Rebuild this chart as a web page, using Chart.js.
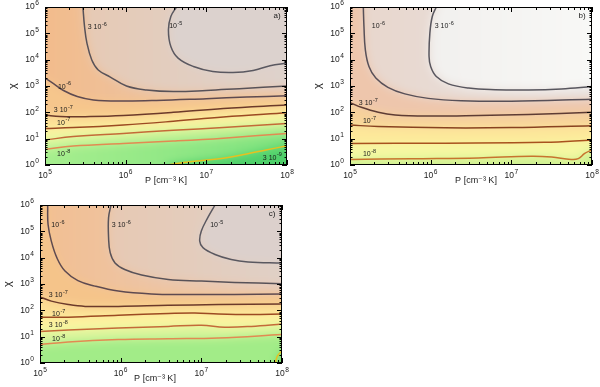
<!DOCTYPE html>
<html><head><meta charset="utf-8">
<script src="https://cdn.jsdelivr.net/npm/chart.js@4.4.1/dist/chart.umd.min.js"></script>
<style>
html,body{margin:0;padding:0;background:#fff;}
body{width:600px;height:387px;position:relative;overflow:hidden;}
.p{position:absolute;}
</style></head><body>
<div class="p" style="left:0;top:0;width:300px;height:190px"><canvas id="ca" width="300" height="190"></canvas></div>
<div class="p" style="left:300px;top:0;width:300px;height:190px"><canvas id="cb" width="300" height="190"></canvas></div>
<div class="p" style="left:0;top:195px;width:300px;height:192px"><canvas id="cc" width="300" height="192"></canvas></div>
<script>
// ---------- axis ticks ----------
const xTicks = [1e5, 1e6, 1e7, 1e8];
const yTicks = [1, 1e1, 1e2, 1e3, 1e4, 1e5, 1e6];

// ---------- contour lines (log10 P, log10 chi), panel a ----------
const a_3e9_lp = [6.51, 6.80, 7.21, 7.50, 7.74, 8.00];
const a_3e9_lc = [0.00, 0.12, 0.26, 0.42, 0.57, 0.73];
const a_1e8_lp = [5.00, 5.35, 5.97, 6.59, 7.21, 8.00];
const a_1e8_lc = [0.59, 0.72, 0.82, 0.91, 1.02, 1.20];
const a_3e8_lp = [5.00, 5.35, 5.97, 6.59, 7.21, 8.00];
const a_3e8_lc = [0.95, 1.08, 1.20, 1.32, 1.42, 1.58];
const a_1e7_lp = [5.00, 5.35, 5.97, 6.59, 7.21, 8.00];
const a_1e7_lc = [1.39, 1.42, 1.52, 1.66, 1.82, 1.98];
const a_3e7_lp = [5.00, 5.19, 5.56, 5.97, 6.59, 7.21, 8.00];
const a_3e7_lc = [1.90, 1.84, 1.84, 1.88, 2.00, 2.15, 2.28];
const a_1e6_lp = [5.00, 5.11, 5.23, 5.40, 5.60, 5.97, 6.38, 7.00, 7.50, 8.00];
const a_1e6_lc = [3.30, 3.08, 2.83, 2.60, 2.47, 2.43, 2.45, 2.52, 2.58, 2.63];
const a_3e6_lp = [5.47, 5.49, 5.52, 5.58, 5.66, 5.81, 6.01, 6.26, 6.59, 7.00, 7.41, 8.00];
const a_3e6_lc = [6.00, 5.26, 4.63, 3.99, 3.61, 3.34, 3.00, 2.85, 2.79, 2.83, 2.90, 3.00];
const a_1e5_lp = [6.63, 6.56, 6.53, 6.56, 6.65, 6.84, 7.08, 7.33, 7.58, 7.79, 8.00];
const a_1e5_lc = [6.00, 5.64, 5.14, 4.50, 4.06, 3.74, 3.55, 3.51, 3.59, 3.77, 3.87];

// ---------- panel b ----------
const b_1e8_lp = [5.00, 5.76, 6.59, 7.25, 7.50, 7.74, 7.83, 7.91, 8.00];
const b_1e8_lc = [0.21, 0.24, 0.27, 0.33, 0.30, 0.21, 0.24, 0.44, 0.57];
const b_3e8_lp = [5.00, 6.18, 7.41, 8.00];
const b_3e8_lc = [0.82, 0.83, 0.86, 0.95];
const b_1e7_lp = [5.00, 5.35, 6.18, 7.00, 8.00];
const b_1e7_lc = [1.52, 1.46, 1.41, 1.42, 1.49];
const b_3e7_lp = [5.00, 5.14, 5.35, 5.56, 5.97, 6.59, 7.21, 8.00];
const b_3e7_lc = [2.37, 2.19, 2.00, 1.90, 1.86, 1.88, 1.92, 2.00];
const b_1e6_lp = [5.165, 5.173, 5.19, 5.235, 5.32, 5.47, 5.68, 5.97, 6.38, 7.00, 8.00];
const b_1e6_lc = [6.00, 5.26, 4.38, 3.74, 3.30, 2.95, 2.70, 2.53, 2.44, 2.42, 2.50];
const b_3e6_lp = [6.07, 6.02, 5.99, 5.98, 6.00, 6.07, 6.22, 6.47, 6.80, 7.21, 7.62, 8.00];
const b_3e6_lc = [6.00, 5.64, 5.01, 4.12, 3.74, 3.36, 3.08, 2.92, 2.86, 2.85, 2.89, 2.98];

// ---------- panel c ----------
const c_3e9_lp = [7.92, 7.94, 8.00];
const c_3e9_lc = [0.00, 0.25, 0.47];
const c_1e8_lp = [5.00, 5.35, 5.97, 6.59, 7.21, 8.00];
const c_1e8_lc = [0.70, 0.80, 0.89, 0.92, 0.95, 1.08];
const c_3e8_lp = [5.00, 5.35, 5.97, 6.59, 7.00, 7.29, 7.62, 8.00];
const c_3e8_lc = [1.20, 1.25, 1.33, 1.39, 1.43, 1.36, 1.39, 1.48];
const c_1e7_lp = [5.00, 5.35, 5.97, 6.59, 6.92, 7.21, 7.62, 8.00];
const c_1e7_lc = [1.74, 1.74, 1.81, 1.88, 1.90, 1.86, 1.84, 1.86];
const c_3e7_lp = [5.00, 5.14, 5.35, 5.56, 5.97, 6.59, 7.21, 8.00];
const c_3e7_lc = [2.51, 2.35, 2.22, 2.15, 2.15, 2.19, 2.22, 2.24];
const c_1e6_lp = [5.095, 5.10, 5.14, 5.21, 5.31, 5.47, 5.68, 5.97, 6.38, 6.80, 7.41, 8.00];
const c_1e6_lc = [6.00, 5.26, 4.63, 3.99, 3.49, 3.13, 2.92, 2.73, 2.62, 2.60, 2.60, 2.62];
const c_3e6_lp = [5.88, 5.85, 5.85, 5.87, 5.93, 6.05, 6.26, 6.59, 7.00, 7.41, 8.00];
const c_3e6_lc = [6.00, 5.52, 4.76, 4.19, 3.80, 3.55, 3.34, 3.17, 3.11, 3.06, 3.01];
const c_1e5_lp = [7.17, 7.08, 7.00, 6.98, 7.02, 7.17, 7.37, 7.58, 8.00];
const c_1e5_lc = [6.00, 5.52, 5.01, 4.63, 4.38, 4.12, 3.93, 3.84, 3.80];

// ---------- contour labels: [base, exponent, log10 P, log10 chi] ----------
const a_labels = [['3 10','-6',5.53,5.24],['10','-5',6.54,5.28],['10','-6',5.16,2.97],['3 10','-7',5.11,2.09],['10','-7',5.15,1.60],['10','-8',5.15,0.42],['3 10','-9',7.70,0.27]];
const b_labels = [['10','-6',5.27,5.28],['3 10','-6',6.05,5.28],['3 10','-7',5.11,2.35],['10','-7',5.16,1.67],['10','-8',5.16,0.42]];
const c_labels = [['10','-6',5.14,5.24],['3 10','-6',5.89,5.24],['10','-5',7.11,5.24],['3 10','-7',5.11,2.58],['10','-7',5.15,1.86],['3 10','-8',5.11,1.44],['10','-8',5.15,0.91]];

const FONT = "'Liberation Sans', Arial, 'DejaVu Sans', sans-serif";
const LINE_COL = {'3e9':'#e6c020','1e8':'#e28a52','3e8':'#c46a38','1e7':'#9c4a22','3e7':'#6c3a2a','1e6':'#5e4a50','3e6':'#585258','1e5':'#5a5860'};
const LINE_COL_B = {'1e8':'#c8742e','3e8':'#a8521e','1e7':'#884220','3e7':'#5e3c34','1e6':'#585058','3e6':'#58565e'};

// draw "base" followed by a raised, smaller exponent; align: 'left' | 'center' | 'right'
function drawPow(ctx, base, exp, x, y, size, align){
  const es = size*0.78;
  ctx.font = size + 'px ' + FONT; const wb = ctx.measureText(base).width;
  ctx.font = es + 'px ' + FONT; const we = ctx.measureText(exp).width;
  const w = wb + 0.5 + we;
  let x0 = align==='center' ? x - w/2 : align==='right' ? x - w : x;
  ctx.textAlign = 'left'; ctx.textBaseline = 'middle';
  ctx.font = size + 'px ' + FONT; ctx.fillText(base, x0, y);
  ctx.font = es + 'px ' + FONT; ctx.fillText(exp, x0 + wb + 0.5, y - size*0.42);
}
const expOf = v => String(Math.round(Math.log10(v)));

const panels = [
  {id:'ca', tag:'a)', pad:{left:0,right:13,top:7,bottom:3}, yW:45, xH:22, titleDx:0, cols:LINE_COL,
   levels:[['3e9',a_3e9_lp,a_3e9_lc],['1e8',a_1e8_lp,a_1e8_lc],['3e8',a_3e8_lp,a_3e8_lc],['1e7',a_1e7_lp,a_1e7_lc],['3e7',a_3e7_lp,a_3e7_lc],['1e6',a_1e6_lp,a_1e6_lc],['3e6',a_3e6_lp,a_3e6_lc],['1e5',a_1e5_lp,a_1e5_lc]],
   bands:['#4ed06a',['#a6ee8e','#7ee27e'],['#d2f69c','#b8ee90'],'#f8f6a2','#fde096','#f6c68c',['#f2bc8c','#e8c8b4'],['#e8c8b0','#ded2cc'],'#dcd2ce'],
   labels:a_labels},
  {id:'cb', tag:'b)', pad:{left:0,right:8,top:7,bottom:3}, yW:50, xH:22, titleDx:5, cols:LINE_COL_B,
   levels:[['1e8',b_1e8_lp,b_1e8_lc],['3e8',b_3e8_lp,b_3e8_lc],['1e7',b_1e7_lp,b_1e7_lc],['3e7',b_3e7_lp,b_3e7_lc],['1e6',b_1e6_lp,b_1e6_lc],['3e6',b_3e6_lp,b_3e6_lc]],
   bands:['#cef192','#f6f8a2','#fde89a','#f7d29a','#eec6ac',['#e8d6cc','#e8e2e0'],['#eeecea','#f8f8f6']],
   labels:b_labels},
  {id:'cc', tag:'c)', pad:{left:0,right:18,top:10,bottom:2}, yW:40, xH:22, titleDx:-6, cols:LINE_COL,
   levels:[['3e9',c_3e9_lp,c_3e9_lc],['1e8',c_1e8_lp,c_1e8_lc],['3e8',c_3e8_lp,c_3e8_lc],['1e7',c_1e7_lp,c_1e7_lc],['3e7',c_3e7_lp,c_3e7_lc],['1e6',c_1e6_lp,c_1e6_lc],['3e6',c_3e6_lp,c_3e6_lc],['1e5',c_1e5_lp,c_1e5_lc]],
   bands:['#7ade74','#a2ec88','#daf59c','#fdf4a0','#fcde94','#f5c48a',['#f2bf92','#e8cab8'],['#eac6ac','#e0d0c6'],'#dcd0cc'],
   labels:c_labels}
];

const bgPlugin = {
  id:'bg',
  beforeDatasetsDraw(chart, args, opts){
    const {ctx, chartArea:ca, scales:{x, y}} = chart;
    const M = 30;
    const L = ca.left-M, R = ca.right+M, T = ca.top-M, B = ca.bottom+M;
    const off = document.createElement('canvas');
    off.width = R-L; off.height = B-T;
    const o = off.getContext('2d');
    o.translate(-L, -T);
    const paint = c => { if (Array.isArray(c)) { const g = o.createLinearGradient(ca.left,0,ca.right,0); g.addColorStop(0,c[0]); g.addColorStop(1,c[1]); return g; } return c; };
    o.fillStyle = paint(opts.bands[0]); o.fillRect(L, T, R-L, B-T);
    opts.levels.forEach((lev, i) => {
      const lp = lev[1], lc = lev[2];
      const P = lp.map((v,k)=>[x.getPixelForValue(Math.pow(10,v)), y.getPixelForValue(Math.pow(10,lc[k]))]);
      const edge = lp[0] <= 5.001 ? 'L' : (lc[0] >= 5.999 ? 'T' : 'B');
      o.beginPath();
      if (edge==='L') o.moveTo(L, P[0][1]); else if (edge==='T') o.moveTo(P[0][0], T); else o.moveTo(P[0][0], B);
      P.forEach(p=>o.lineTo(p[0], p[1]));
      o.lineTo(R, P[P.length-1][1]); o.lineTo(R, T);
      if (edge !== 'T') { o.lineTo(L, T); if (edge==='B') o.lineTo(L, B); }
      o.closePath();
      o.fillStyle = paint(opts.bands[i+1]); o.fill();
    });
    ctx.save();
    ctx.beginPath(); ctx.rect(ca.left, ca.top, ca.right-ca.left, ca.bottom-ca.top); ctx.clip();
    ctx.filter = 'blur(' + opts.blur + 'px)';
    ctx.drawImage(off, L, T);
    ctx.restore();
  }
};

const framePlugin = {
  id:'frame',
  afterDatasetsDraw(chart, args, opts){
    const {ctx, scales:{x, y}} = chart;
    ctx.save();
    ctx.fillStyle = '#1a1a1a';
    opts.labels.forEach(l => {
      drawPow(ctx, l[0], l[1], x.getPixelForValue(Math.pow(10,l[2])), y.getPixelForValue(Math.pow(10,l[3])), 7, 'left');
    });
    ctx.restore();
  },
  afterDraw(chart, args, opts){
    const {ctx, chartArea:ca, scales:{x, y}} = chart;
    ctx.save();
    ctx.strokeStyle = '#000'; ctx.lineWidth = 1;
    ctx.strokeRect(ca.left+0.5, ca.top+0.5, ca.right-ca.left-1, ca.bottom-ca.top-1);
    ctx.beginPath();
    for (let d = 5; d <= 8; d++) for (let m = 1; m <= 9; m++) {
      const v = m*Math.pow(10,d); if (v > 1e8*1.0001) continue;
      const px = Math.round(x.getPixelForValue(v)) + 0.5, len = m===1 ? 5 : 3;
      ctx.moveTo(px, ca.bottom); ctx.lineTo(px, ca.bottom-len);
      ctx.moveTo(px, ca.top); ctx.lineTo(px, ca.top+len);
    }
    for (let d = 0; d <= 6; d++) for (let m = 1; m <= 9; m++) {
      const v = m*Math.pow(10,d); if (v > 1e6*1.0001) continue;
      const py = Math.round(y.getPixelForValue(v)) + 0.5, len = m===1 ? 5 : 2.5;
      ctx.moveTo(ca.left, py); ctx.lineTo(ca.left+len, py);
      ctx.moveTo(ca.right, py); ctx.lineTo(ca.right-len, py);
    }
    ctx.stroke();
    ctx.fillStyle = '#1a1a1a';
    // tick labels placed with the chart scales
    xTicks.forEach(v => drawPow(ctx, '10', expOf(v), x.getPixelForValue(v), ca.bottom + 11, 8.5, 'center'));
    yTicks.forEach(v => drawPow(ctx, '10', expOf(v), ca.left - 6, y.getPixelForValue(v), 8.5, 'right'));
    // axis titles
    ctx.font = '9px ' + FONT;
    ctx.textAlign = 'center'; ctx.textBaseline = 'middle';
    ctx.fillText('P [cm⁻³ K]', (ca.left+ca.right)/2 + opts.titleDx, ca.bottom + 16);
    ctx.save();
    ctx.translate(ca.left - 32, (ca.top+ca.bottom)/2);
    ctx.rotate(-Math.PI/2);
    ctx.font = '11px ' + FONT;
    ctx.fillText('χ', 0, 0);
    ctx.restore();
    ctx.font = '8px ' + FONT;
    ctx.textAlign = 'center';
    ctx.fillText(opts.tag, ca.right - 10, ca.top + 9);
    ctx.restore();
  }
};

panels.forEach(p => {
  const datasets = p.levels.map(lev => ({
    data: lev[1].map((v,k)=>({x:Math.pow(10,v), y:Math.pow(10,lev[2][k])})),
    showLine:true, borderColor:p.cols[lev[0]], borderWidth:1.5, pointRadius:0, tension:0.4, fill:false
  }));
  new Chart(document.getElementById(p.id), {
    type:'scatter',
    data:{datasets},
    plugins:[bgPlugin, framePlugin],
    options:{
      responsive:false, animation:false, maintainAspectRatio:false,
      layout:{padding:p.pad},
      plugins:{legend:{display:false}, tooltip:{enabled:false},
        bg:{levels:p.levels, bands:p.bands, blur:5},
        frame:{labels:p.labels, tag:p.tag, titleDx:p.titleDx}},
      scales:{
        x:{type:'logarithmic', min:1e5, max:1e8, position:'bottom',
          afterBuildTicks:s=>{ s.ticks = xTicks.map(v=>({value:v})); },
          afterFit:s=>{ s.height = p.xH; },
          grid:{display:false, drawTicks:false}, border:{display:false},
          ticks:{display:false}},
        y:{type:'logarithmic', min:1, max:1e6, position:'left',
          afterBuildTicks:s=>{ s.ticks = yTicks.map(v=>({value:v})); },
          afterFit:s=>{ s.width = p.yW; },
          grid:{display:false, drawTicks:false}, border:{display:false},
          ticks:{display:false}}
      }
    }
  });
});
</script>
</body></html>
